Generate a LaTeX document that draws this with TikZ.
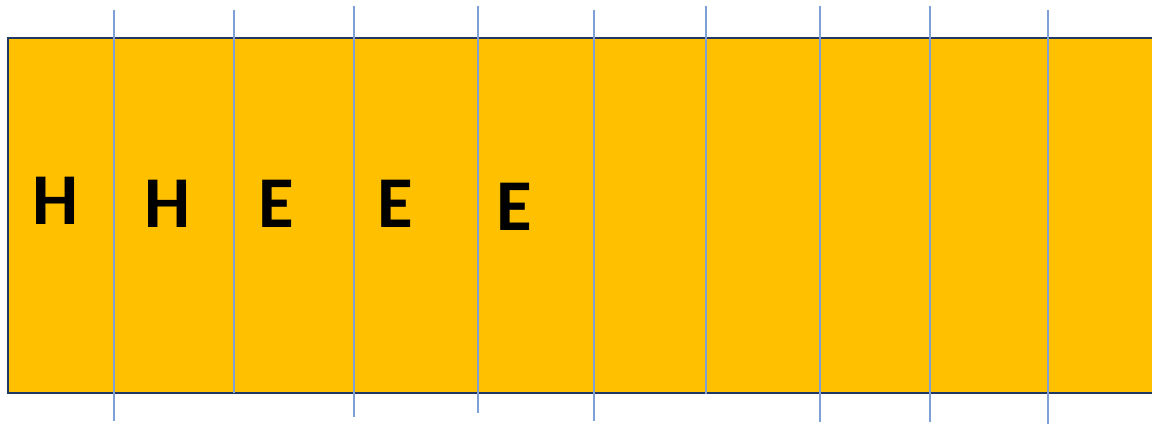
\documentclass[tikz,border=0pt]{standalone}
\usepackage{fontspec}
\setmainfont{Carlito}
\tikzset{
  strip/.style={fill={rgb,255:red,255;green,192;blue,0}, draw={rgb,255:red,31;green,56;blue,100}, line width=2.2pt},
  divider/.style={draw={rgb,255:red,127;green,160;blue,214}, line width=1.3pt},
  letter/.style={font=\bfseries\fontsize{73}{73}\selectfont, inner sep=0pt, anchor=center}
}
\begin{document}
\begin{tikzpicture}[x=1pt,y=-1pt]
\useasboundingbox (0,0) rectangle (1152,424);
\clip (0,0) rectangle (1152,424);
\fill[white] (0,0) rectangle (1152,424);
\draw[strip] (8,38) rectangle (1170,393);
\foreach \x/\t/\b in {114/10/421, 234/10/393, 354/6/417, 478/6/413, 594/10/421, 706/6/394, 820/6/422, 930/6/422, 1048/10/424}{
  \coordinate (t\x) at (\x,\t);
  \coordinate (b\x) at (\x,\b);
  \draw[divider] (t\x) -- (b\x);
}
\node[letter] (h1) at (56,201) {\vphantom{H}H};
\node[letter] (h2) at (168,203.5) {H};
\node[letter] (e1) at (276,203.5) {E};
\node[letter] (e2) at (395,203.5) {E};
\node[letter] (e3) at (514,206.5) {E};
\end{tikzpicture}
\end{document}
